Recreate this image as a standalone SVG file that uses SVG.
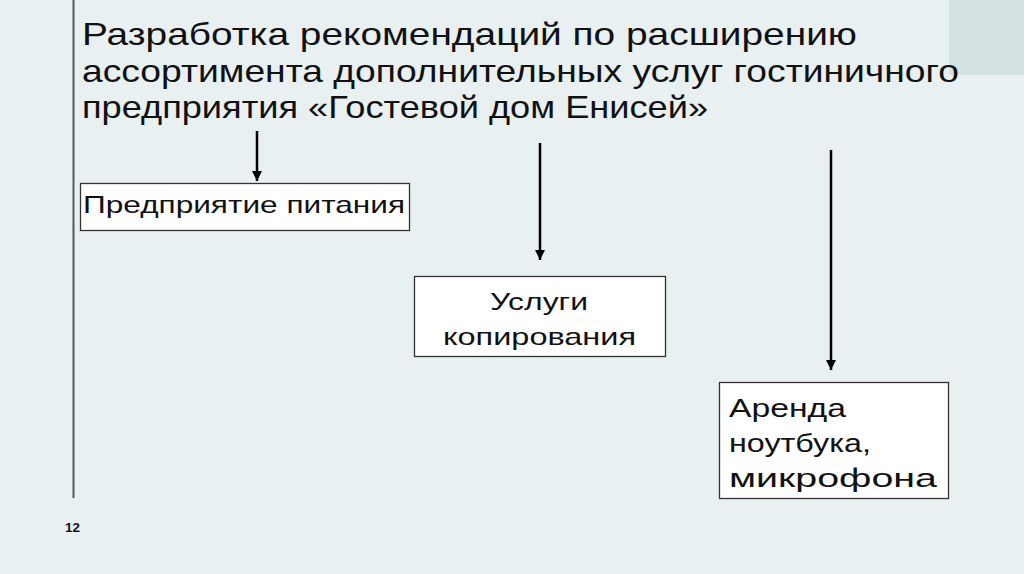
<svg xmlns="http://www.w3.org/2000/svg" width="1024" height="574" viewBox="0 0 1024 574">
<defs>
<marker id="ah" markerWidth="10" markerHeight="10" refX="10" refY="5" orient="auto" markerUnits="userSpaceOnUse" viewBox="0 0 10 10">
<path d="M0,0 L10,5 L0,10 Z" fill="#000"/>
</marker>
</defs>
<style>
.t{font-family:"Liberation Sans","DejaVu Sans",sans-serif;fill:#111}
.box{fill:#fff;stroke:#333;stroke-width:1.3}
.c{stroke:#000;stroke-width:2.5;fill:none}
</style>
<rect width="1024" height="574" fill="#e8f0f2"/>
<rect x="949" y="0" width="75" height="75" fill="#d4e2e2"/>
<line x1="73.5" y1="0" x2="73.5" y2="498" stroke="#4c5c5c" stroke-width="2"/>
<g id="title">
<text class="t" x="82" y="45" font-size="32" textLength="775" lengthAdjust="spacingAndGlyphs">Разработка рекомендаций по расширению</text>
<text class="t" x="82" y="82" font-size="32" textLength="877" lengthAdjust="spacingAndGlyphs">ассортимента дополнительных услуг гостиничного</text>
<text class="t" x="82" y="118" font-size="32" textLength="626" lengthAdjust="spacingAndGlyphs">предприятия «Гостевой дом Енисей»</text>
</g>
<g id="connectors">
<line class="c" x1="257" y1="131" x2="257" y2="181" marker-end="url(#ah)"/>
<line class="c" x1="540" y1="143" x2="540" y2="260" marker-end="url(#ah)"/>
<line class="c" x1="831" y1="150" x2="831" y2="370" marker-end="url(#ah)"/>
</g>
<g id="node1">
<rect class="box" x="80.5" y="183.5" width="329" height="47"/>
<text class="t" x="83" y="213" font-size="24" textLength="322" lengthAdjust="spacingAndGlyphs">Предприятие питания</text>
</g>
<g id="node2">
<rect class="box" x="414.5" y="276.5" width="251" height="80"/>
<text class="t" x="490" y="310" font-size="24" textLength="98" lengthAdjust="spacingAndGlyphs">Услуги</text>
<text class="t" x="443" y="345" font-size="24" textLength="193" lengthAdjust="spacingAndGlyphs">копирования</text>
</g>
<g id="node3">
<rect class="box" x="719.5" y="382.5" width="229" height="116"/>
<text class="t" x="729" y="417" font-size="26" textLength="117" lengthAdjust="spacingAndGlyphs">Аренда</text>
<text class="t" x="729" y="452" font-size="26" textLength="142" lengthAdjust="spacingAndGlyphs">ноутбука,</text>
<text class="t" x="729" y="487" font-size="26" textLength="208" lengthAdjust="spacingAndGlyphs">микрофона</text>
</g>
<text class="t" x="65" y="532" font-size="13" font-weight="bold" textLength="15" lengthAdjust="spacingAndGlyphs">12</text>
</svg>
